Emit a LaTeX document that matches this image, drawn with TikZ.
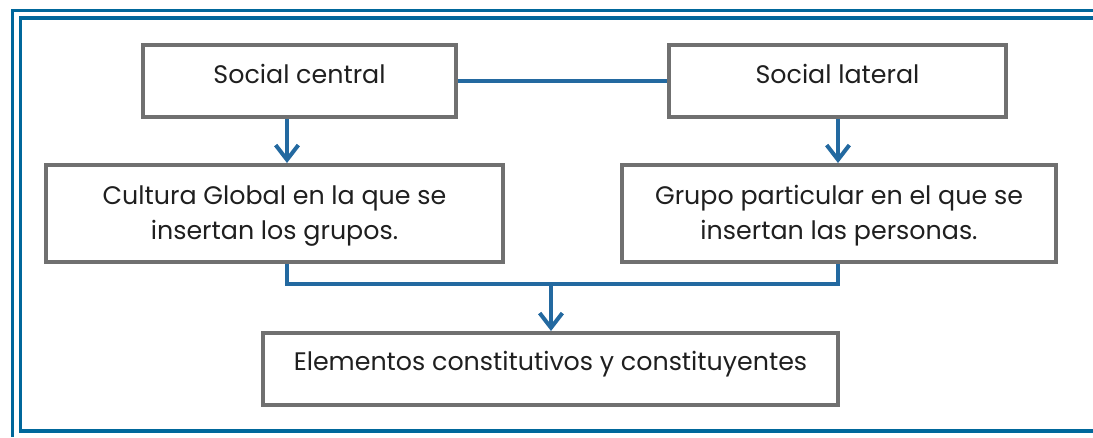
\documentclass[tikz,border=0pt]{standalone}
\usepackage{fontspec}
\setmainfont{Poppins}
\usetikzlibrary{arrows.meta}

\definecolor{framebl}{RGB}{0,103,155}
\definecolor{linkbl}{RGB}{35,105,160}
\definecolor{boxgr}{RGB}{112,112,112}

\begin{document}
\begin{tikzpicture}[x=0.75pt, y=-0.75pt, line cap=butt, line join=miter,
  >={Straight Barb[length=11pt,width=17pt]},
  frame/.style={draw=framebl, line width=2.8pt},
  box/.style={draw=boxgr, line width=3pt, inner sep=0pt, align=center,
    font=\fontsize{19}{26.25}\selectfont, text=black!88},
  oneline/.style={text height=12pt, text depth=9pt},
  twoline/.style={text height=41pt, text depth=2pt},
  link/.style={draw=linkbl, line width=3pt},
  arr/.style={link, ->}]

\useasboundingbox (0,0) rectangle (1093,437);

% double frame
\draw[frame] (1093,10.5) -- (12.5,10.5) -- (12.5,437);
\draw[frame] (1093,18.3) -- (20.4,18.3) -- (20.4,430.7) -- (1093,430.7);

% boxes
\node[box, oneline, minimum width=313*0.75pt, minimum height=72*0.75pt] (central) at (299.5,81) {Social central};
\node[box, oneline, minimum width=337*0.75pt, minimum height=72*0.75pt] (lateral) at (837.5,81) {Social lateral};
\node[box, twoline, minimum width=457*0.75pt, minimum height=97*0.75pt] (global) at (274.5,213.5)
  {Cultura Global en la que se\\insertan los grupos.};
\node[box, twoline, minimum width=434*0.75pt, minimum height=97*0.75pt] (grupo) at (839,213.5)
  {Grupo particular en el que se\\insertan las personas.};
\node[box, oneline, text depth=10.5pt, minimum width=575*0.75pt, minimum height=72*0.75pt] (elem) at (550.5,369)
  {Elementos constitutivos y constituyentes};

\coordinate (l) at (287,0);
\coordinate (r) at (838,0);
\coordinate (m) at (551,284);

% connectors
\draw[link] (central.east) -- (lateral.west);
\draw[arr] (central.south -| l) -- (global.north -| l);
\draw[arr] (lateral.south -| r) -- (grupo.north -| r);
\draw[link] (global.south -| l) |- (m) -| (grupo.south -| r);
\draw[arr] (m) -- (elem.north -| m);

\end{tikzpicture}
\end{document}
